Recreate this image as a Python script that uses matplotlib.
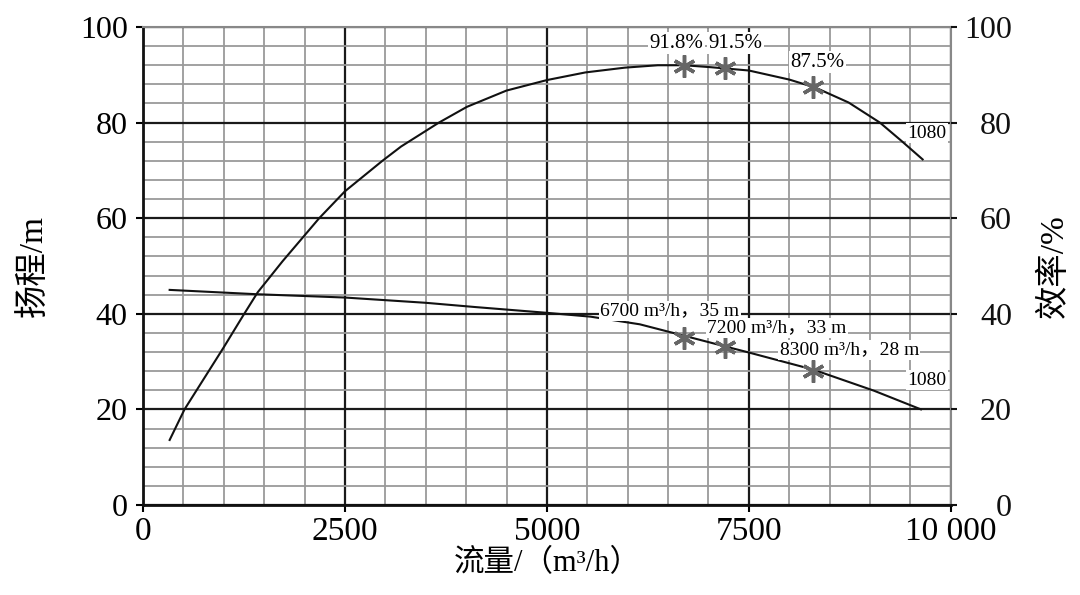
import matplotlib.pyplot as plt
from matplotlib.ticker import MultipleLocator

plt.rcParams['font.family'] = ['Liberation Serif', 'Noto Sans CJK SC']

# 扬程曲线 (流量 m3/h, 扬程 m)
flow_head = [330, 1400, 2500, 3500, 4120, 5000, 5540, 6150, 6700, 7200, 7500, 8300, 9050, 9630]
head = [45.0, 44.1, 43.4, 42.3, 41.4, 40.2, 39.4, 37.8, 35.4, 33.2, 31.9, 28.3, 23.9, 20.0]

# 效率曲线 (流量 m3/h, 效率 %)
flow_eff = [330, 514, 1000, 1235, 1420, 1728, 2181, 2498, 2963, 3195, 3663, 4010, 4499,
            5000, 5477, 5966, 6373, 6700, 7023, 7500, 8001, 8327, 8735, 9122, 9387, 9651]
eff = [13.6, 20.0, 33.0, 39.5, 44.5, 51.0, 60.0, 65.6, 72.0, 75.0, 80.0, 83.3, 86.7,
       88.9, 90.5, 91.5, 92.0, 92.0, 91.6, 90.9, 89.0, 87.3, 84.2, 80.0, 76.2, 72.3]

# 工况点
pt_flow = [6700, 7200, 8300]
pt_head = [35, 33, 28]
pt_eff = [91.8, 91.5, 87.5]
eff_labels = ['91.8%', '91.5%', '87.5%']
head_labels = ['6700 m³/h，35 m', '7200 m³/h，33 m', '8300 m³/h，28 m']

fig = plt.figure(figsize=(10.8, 5.95), dpi=100)
ax = fig.add_axes([0.1324, 0.1513, 0.748, 0.8033])
ax2 = ax.twinx()

ax.set_xlim(0, 10000)
ax.set_ylim(0, 100)
ax2.set_ylim(0, 100)

ax.xaxis.set_major_locator(MultipleLocator(2500))
ax.xaxis.set_minor_locator(MultipleLocator(500))
ax.yaxis.set_major_locator(MultipleLocator(20))
ax.yaxis.set_minor_locator(MultipleLocator(4))
ax2.yaxis.set_major_locator(MultipleLocator(20))

ax.grid(which='minor', color='#9a9a9a', lw=1.3)
ax.grid(which='major', color='#1a1a1a', lw=1.6)
ax.set_axisbelow(True)

for s in ['left', 'bottom']:
    ax.spines[s].set_linewidth(2)
    ax.spines[s].set_color('#111111')
for s in ['top', 'right']:
    ax.spines[s].set_linewidth(1.5)
    ax.spines[s].set_color('#888888')
for s in ax2.spines.values():
    s.set_visible(False)

ax.set_xticks([0, 2500, 5000, 7500, 10000])
ax.set_xticklabels(['0', '2500', '5000', '7500', '10 000'])
ax.tick_params(axis='x', which='major', labelsize=24, length=5, width=1.5, pad=3)
ax.tick_params(axis='y', which='major', labelsize=23, length=5, width=1.5, pad=6)
ax.tick_params(which='minor', length=0)
ax2.tick_params(labelsize=23, length=4, width=1.5, colors='#111111', pad=40)
for lab in ax2.get_yticklabels():
    lab.set_horizontalalignment('right')

ax.set_xlabel('流量/（m³/h）', fontsize=22, labelpad=2)
ax.set_ylabel('扬程/m', fontsize=24, labelpad=22)
ax2.set_ylabel('效率/%', fontsize=24, ha='center', va='center')
ax2.yaxis.set_label_coords(1.128, 0.5)

ax.plot(flow_head, head, color='#111111', lw=1.5)
ax2.plot(flow_eff, eff, color='#111111', lw=1.5)

ax.plot(pt_flow, pt_head, ls='none', marker=(6, 2, 0), ms=16, mew=2.5, color='#666666')
ax2.plot(pt_flow, pt_eff, ls='none', marker=(6, 2, 0), ms=16, mew=2.5, color='#666666')

box = dict(facecolor='white', edgecolor='none', pad=1)
eff_pos = [(6600, 96.6), (7330, 96.6), (8350, 92.6)]
for (x, y), t in zip(eff_pos, eff_labels):
    ax2.text(x, y, t, fontsize=15, ha='center', va='center', bbox=box)
head_pos = [(5660, 40.6), (6980, 37.0), (7880, 32.4)]
for (x, y), t in zip(head_pos, head_labels):
    ax.text(x, y, t, fontsize=14, ha='left', va='center', bbox=box)

ax2.text(9950, 77.8, '1080', fontsize=14, ha='right', va='center', bbox=box)
ax.text(9950, 26.1, '1080', fontsize=14, ha='right', va='center', bbox=box)

fig.savefig('out.png', dpi=100)
